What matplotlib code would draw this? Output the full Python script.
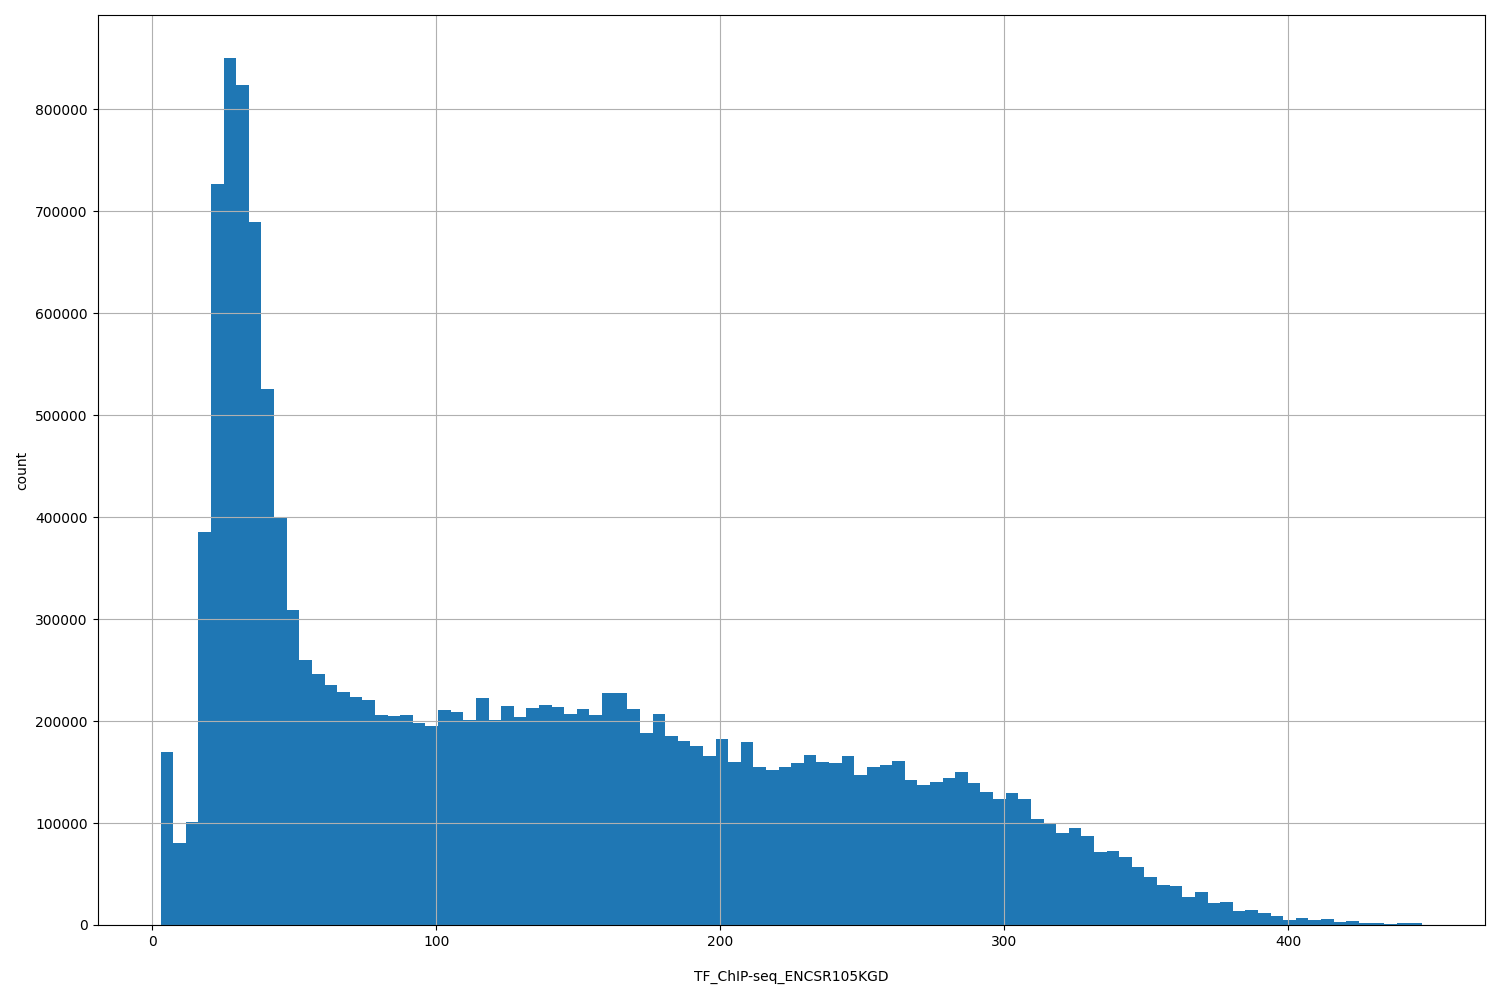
import numpy as np
import matplotlib.pyplot as plt

# histogram of 100 bins between x_min and x_max
x_min, x_max = 3.0, 447.0
counts = [
    170000, 80000, 101000, 385000, 727000, 850000, 824000, 689000, 526000, 400000,
    309000, 260000, 246000, 235000, 229000, 224000, 221000, 206000, 205000, 206000,
    198000, 195000, 211000, 209000, 201000, 223000, 201000, 215000, 204000, 213000,
    216000, 214000, 207000, 212000, 206000, 228000, 228000, 212000, 188000, 207000,
    185000, 180000, 176000, 166000, 182000, 160000, 179000, 155000, 152000, 155000,
    159000, 167000, 160000, 159000, 166000, 147000, 155000, 157000, 161000, 142000,
    137000, 140000, 144000, 150000, 139000, 130000, 124000, 129000, 124000, 104000,
    99000, 90000, 95000, 87000, 72000, 73000, 67000, 57000, 47000, 39000,
    38000, 27000, 32000, 22000, 23000, 14000, 15000, 12000, 9000, 5000,
    7000, 5000, 6000, 3000, 4000, 2000, 2000, 1000, 2000, 2000,
]

edges = np.linspace(x_min, x_max, len(counts) + 1)
centers = (edges[:-1] + edges[1:]) / 2

fig = plt.figure(figsize=(15, 10), dpi=100)
ax = fig.add_axes([0.065, 0.075, 0.925, 0.91])
ax.hist(centers, bins=edges, weights=counts, color="#1f77b4")
ax.grid(True)
ax.set_xlabel("TF_ChIP-seq_ENCSR105KGD", labelpad=15)
ax.set_ylabel("count")
fig.savefig("out.png")
